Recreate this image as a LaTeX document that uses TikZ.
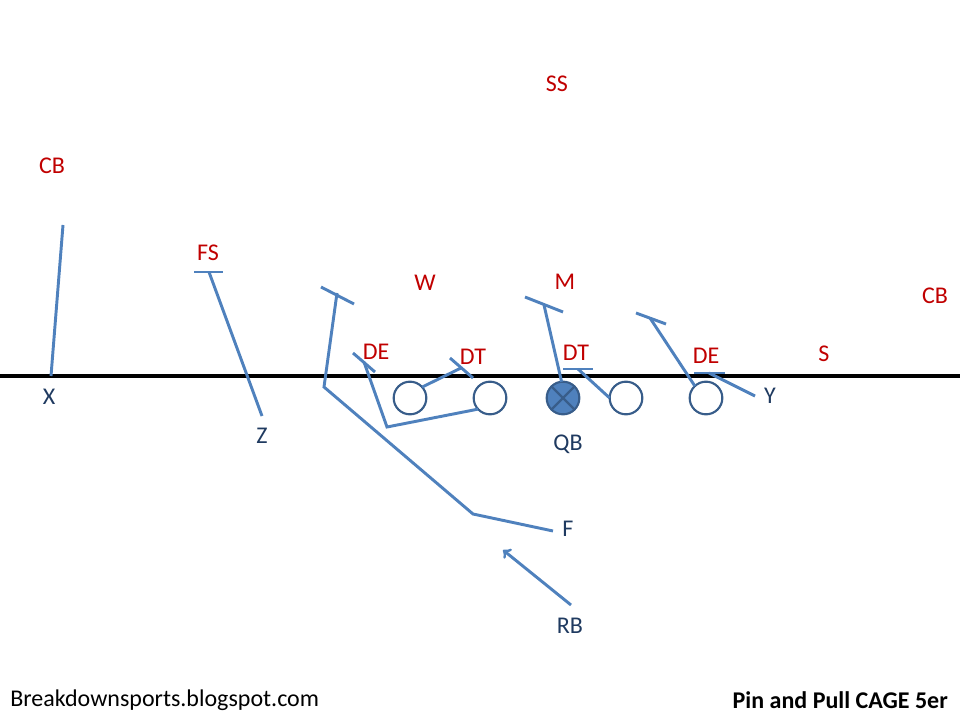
\documentclass[tikz,border=0pt]{standalone}
\usepackage{fontspec}
\setmainfont{Carlito}
\usetikzlibrary{arrows}
\definecolor{routeblue}{HTML}{4F81BD}
\definecolor{ringblue}{HTML}{385D8A}
\definecolor{defred}{HTML}{C00000}
\definecolor{offblue}{HTML}{1F3A60}
\tikzstyle{route}=[draw=routeblue, line width=2.2pt]
\tikzstyle{man}=[circle, draw=ringblue, line width=1.6pt, minimum size=24.5pt,
                 inner sep=0, outer sep=0]
\tikzstyle{dlabel}=[text=defred, font=\fontsize{18}{20}\selectfont, inner sep=1pt]
\tikzstyle{olabel}=[text=offblue, font=\fontsize{18}{20}\selectfont, inner sep=1pt]

\begin{document}
\begin{tikzpicture}[x=0.75pt, y=-0.75pt]
\useasboundingbox (0,0) rectangle (960,720);
% line of scrimmage
\draw[line width=2.4pt] (0,376) -- (960,376);
% defense
\node[dlabel] (cbl) at (52,166) {CB};
\node[dlabel] (fs) at (208,253) {FS};
\node[dlabel] (del) at (376,352) {DE};
\node[dlabel] (w) at (425,283) {W};
\node[dlabel] (dtl) at (473,357) {DT};
\node[dlabel] (ss) at (557,84) {SS};
\node[dlabel] (m) at (565,282) {M};
\node[dlabel] (dtr) at (576,353) {DT};
\node[dlabel] (der) at (706,356) {DE};
\node[dlabel] (s) at (824,354) {S};
\node[dlabel] (cbr) at (935,296) {CB};
% offense
\node[man] (ol1) at (410,398) {};
\node[man] (ol2) at (490,398) {};
\node[man, fill=routeblue] (qb) at (563,398) {};
\draw[ringblue, line width=1.6pt] (qb.45) -- (qb.225) (qb.135) -- (qb.315);
\node[man] (ol4) at (626,398) {};
\node[man] (ol5) at (706,398) {};
\node[olabel] (x) at (49,397) {X};
\node[olabel] (z) at (262,436) {Z};
\node[olabel] (qbl) at (568,444) {QB};
\node[olabel] (y) at (770,396) {Y};
\node[olabel] (f) at (568,529) {F};
\node[olabel] (rb) at (570,626) {RB};
% route points
\coordinate (x0) at (51,376);   \coordinate (x1) at (63,225);
\coordinate (z0) at (262,416);  \coordinate (z1) at (209,272);
\coordinate (f0) at (553,531);  \coordinate (f1) at (473,514);
\coordinate (f2) at (324,387);  \coordinate (f3) at (337,293);
\coordinate (p1) at (387,427);  \coordinate (p2) at (364,362);
\coordinate (b1) at (461,368);  \coordinate (b2) at (544,305);
\coordinate (b4) at (578,369);  \coordinate (b5) at (650,318);
\coordinate (y0) at (755,396);  \coordinate (y1) at (709,373);
\coordinate (rb0) at (571,605); \coordinate (rb1) at (503,550);
% routes
\draw[route] (x0) -- (x1);
\draw[route] (z0) -- (z1);
\draw[route] (f0) -- (f1) -- (f2) -- (f3);
\draw[route] (ol2.223) -- (p1) -- (p2);
\draw[route] (ol1.42) -- (b1);
\draw[route] (qb.95) -- (b2);
\draw[route] (ol4.west) -- (b4);
\draw[route] (ol5.133) -- (b5);
\draw[route] (y0) -- (y1);
\draw[route, ->] (rb0) -- (rb1);
% blocks
\draw[route] (194,272) -- (223,272);
\draw[route] (321,287) -- (354,304);
\draw[route] (353,353) -- (375,372);
\draw[route] (450,358) -- (473,378);
\draw[route] (525,297) -- (563,312);
\draw[route] (563,369) -- (593,369);
\draw[route] (636,313) -- (666,324);
\draw[route] (694,373) -- (725,373);
% titles
\node[anchor=west, font=\fontsize{18}{20}\selectfont, inner sep=0] (site) at (10,700)
  {Breakdownsports.blogspot.com};
\node[anchor=east, font=\fontsize{18}{20}\selectfont\bfseries, inner sep=0] (title) at (948,700)
  {Pin and Pull CAGE 5er};
\end{tikzpicture}
\end{document}
